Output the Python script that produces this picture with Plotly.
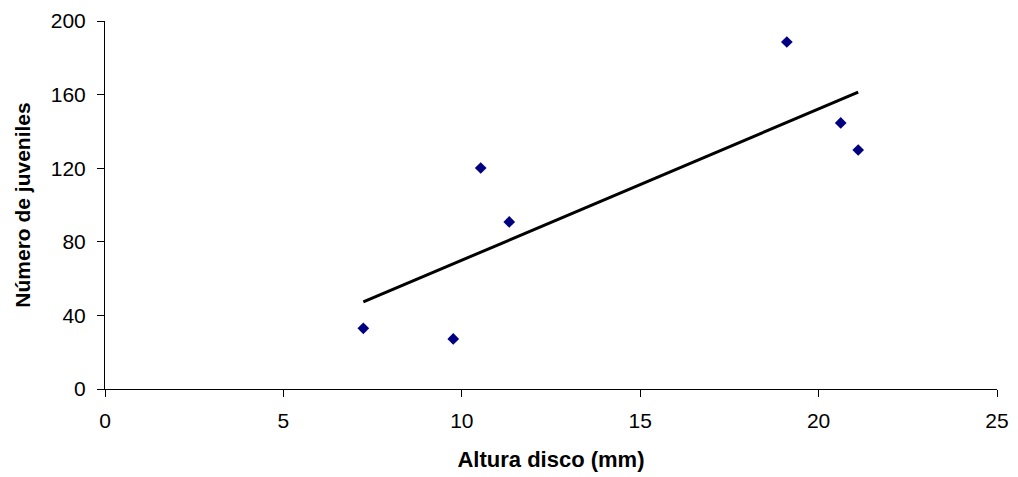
import numpy as np
import plotly.graph_objects as go

altura = [7.24, 9.76, 10.53, 11.33, 19.11, 20.62, 21.11]
juveniles = [33.0, 27.2, 120.1, 90.8, 188.6, 144.6, 129.9]
x_ticks = [0, 5, 10, 15, 20, 25]
y_ticks = [0, 40, 80, 120, 160, 200]

slope, intercept = np.polyfit(altura, juveniles, 1)
x_line = [min(altura), max(altura)]
y_line = [slope * v + intercept for v in x_line]

fig = go.Figure()
fig.add_trace(go.Scatter(x=altura, y=juveniles, mode="markers",
                         marker=dict(symbol="diamond", size=9, color="#000080"),
                         showlegend=False))
fig.add_trace(go.Scatter(x=x_line, y=y_line, mode="lines",
                         line=dict(color="black", width=3), showlegend=False))

font = dict(family="Liberation Sans, Arial, sans-serif", size=21, color="black")
fig.update_layout(
    width=1018, height=477,
    margin=dict(l=105, r=21, t=21, b=88),
    paper_bgcolor="white", plot_bgcolor="white",
    font=font,
    xaxis=dict(range=[0, 25], tickvals=x_ticks, showgrid=False, zeroline=False,
               showline=True, linecolor="black", linewidth=1,
               ticks="outside", ticklen=7, tickcolor="black", automargin=False,
               tickfont=dict(size=21), ticklabelstandoff=6,
               title=dict(text="<b>Altura disco (mm)</b>", standoff=20,
                          font=dict(size=22))),
    yaxis=dict(range=[0, 200], tickvals=y_ticks, showgrid=False, zeroline=False,
               showline=True, linecolor="black", linewidth=1,
               ticks="outside", ticklen=7, tickcolor="black", automargin=False,
               tickfont=dict(size=21), ticklabelstandoff=7,
               title=dict(text="<b>Número de juveniles</b>", standoff=14,
                          font=dict(size=21))),
)
fig.write_html("out.html", post_script="document.body.style.margin='0';",
               config={"displayModeBar": False})
